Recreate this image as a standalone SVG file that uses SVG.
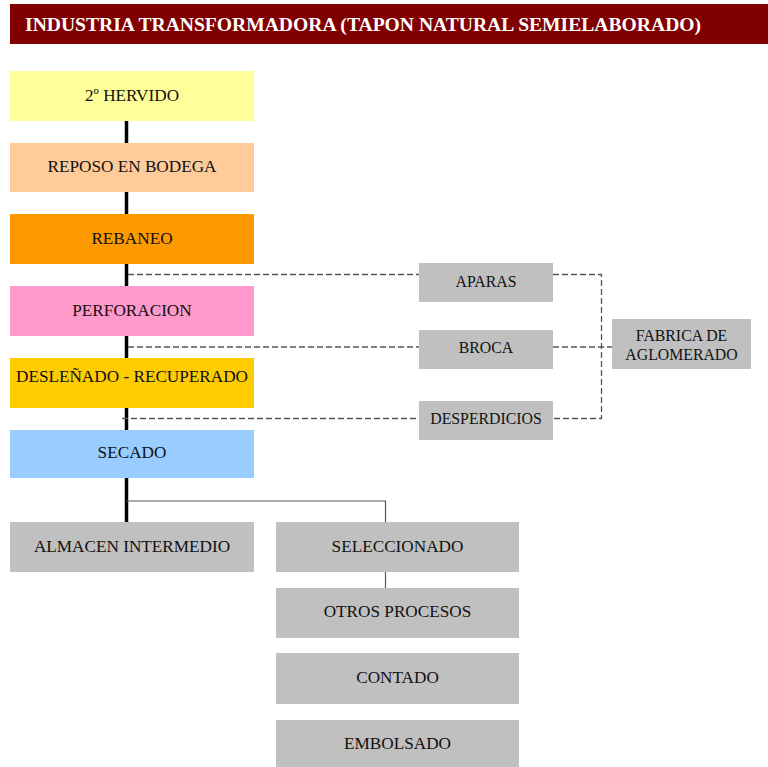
<svg xmlns="http://www.w3.org/2000/svg" width="768" height="767" viewBox="0 0 768 767">
  <style>
    .lbl { font-family: "Liberation Serif", "Times New Roman", serif; font-size: 17.2px; fill: #111; text-anchor: middle; dominant-baseline: central; }
    .sm { font-size: 15.8px; }
    .title { font-family: "Liberation Serif", "Times New Roman", serif; font-size: 19.6px; font-weight: bold; fill: #fff; }
    .grey { fill: #c0c0c0; }
    .main { stroke: #000; stroke-width: 3.5; fill: none; }
    .thin { stroke: #555; stroke-width: 1.2; fill: none; }
    .dash { stroke: #555; stroke-width: 1.3; fill: none; stroke-dasharray: 6 3; }
  </style>

  <rect width="768" height="767" fill="#fff"/>

  <!-- header bar -->
  <g id="header">
    <rect x="10" y="4" width="758" height="40" fill="#800000"/>
    <text class="title" x="25" y="31">INDUSTRIA TRANSFORMADORA (TAPON NATURAL SEMIELABORADO)</text>
  </g>

  <!-- connectors -->
  <g id="connectors">
    <line class="main" x1="126.5" y1="121" x2="126.5" y2="522"/>
    <polyline class="thin" points="126.5,501 385.5,501 385.5,522"/>
    <line class="thin" x1="385.5" y1="572" x2="385.5" y2="588"/>
    <line class="dash" x1="128" y1="274.5" x2="419" y2="274.5"/>
    <line class="dash" x1="128" y1="347" x2="419" y2="347"/>
    <line class="dash" x1="122" y1="418.5" x2="419" y2="418.5"/>
    <polyline class="dash" points="553,274.5 601.5,274.5 601.5,418.5 553,418.5"/>
    <line class="dash" x1="553" y1="347" x2="612" y2="347"/>
  </g>

  <!-- main process column -->
  <g id="hervido">
    <rect x="10" y="71" width="244" height="50" fill="#ffff99"/>
    <text class="lbl" x="132" y="95.5">2º HERVIDO</text>
  </g>
  <g id="reposo">
    <rect x="10" y="143" width="244" height="49" fill="#ffcc99"/>
    <text class="lbl" x="132" y="166.5">REPOSO EN BODEGA</text>
  </g>
  <g id="rebaneo">
    <rect x="10" y="214" width="244" height="50" fill="#ff9900"/>
    <text class="lbl" x="132" y="238.5">REBANEO</text>
  </g>
  <g id="perforacion">
    <rect x="10" y="286" width="244" height="50" fill="#ff99cc"/>
    <text class="lbl" x="132" y="310.5">PERFORACION</text>
  </g>
  <g id="deslenado">
    <rect x="10" y="358" width="244" height="50" fill="#ffcc00"/>
    <text class="lbl" x="132" y="376.5">DESLEÑADO - RECUPERADO</text>
  </g>
  <g id="secado">
    <rect x="10" y="430" width="244" height="48" fill="#99ccff"/>
    <text class="lbl" x="132" y="452.5">SECADO</text>
  </g>
  <g id="almacen">
    <rect class="grey" x="10" y="522" width="244" height="50"/>
    <text class="lbl" x="132" y="546.5">ALMACEN INTERMEDIO</text>
  </g>

  <!-- finishing column -->
  <g id="seleccionado">
    <rect class="grey" x="276" y="522" width="243" height="50"/>
    <text class="lbl" x="397.5" y="546.5">SELECCIONADO</text>
  </g>
  <g id="otros">
    <rect class="grey" x="276" y="588" width="243" height="50"/>
    <text class="lbl" x="397.5" y="611.5">OTROS PROCESOS</text>
  </g>
  <g id="contado">
    <rect class="grey" x="276" y="653" width="243" height="51"/>
    <text class="lbl" x="397.5" y="677.5">CONTADO</text>
  </g>
  <g id="embolsado">
    <rect class="grey" x="276" y="720" width="243" height="47"/>
    <text class="lbl" x="397.5" y="743.5">EMBOLSADO</text>
  </g>

  <!-- by-products -->
  <g id="aparas">
    <rect class="grey" x="419" y="263" width="134" height="39"/>
    <text class="lbl sm" x="486" y="281.5">APARAS</text>
  </g>
  <g id="broca">
    <rect class="grey" x="419" y="330" width="134" height="39"/>
    <text class="lbl sm" x="486" y="347.5">BROCA</text>
  </g>
  <g id="desperdicios">
    <rect class="grey" x="419" y="401" width="134" height="39"/>
    <text class="lbl sm" x="486" y="418.5">DESPERDICIOS</text>
  </g>
  <g id="fabrica">
    <rect class="grey" x="612" y="319" width="139" height="50"/>
    <text class="lbl sm" x="681.5" y="335">FABRICA DE</text>
    <text class="lbl sm" x="681.5" y="354">AGLOMERADO</text>
  </g>
</svg>
